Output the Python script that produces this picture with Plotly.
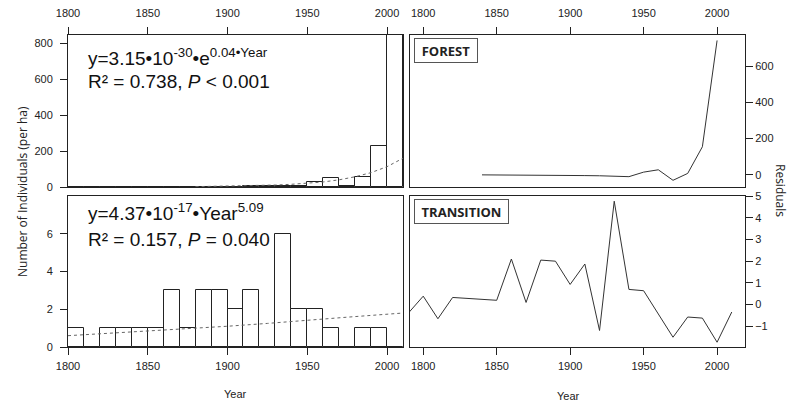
import plotly.graph_objects as go

# ---------------- data ----------------
bin_start = [1800, 1810, 1820, 1830, 1840, 1850, 1860, 1870, 1880, 1890, 1900,
             1910, 1920, 1930, 1940, 1950, 1960, 1970, 1980, 1990, 2000]
forest_counts = [0, 0, 0, 0, 0.5, 0.5, 0.5, 0.5, 0.5, 1, 2,
                 3, 5, 6, 8, 28, 52, 5, 55, 228, 860]
transition_counts = [1, 0, 1, 1, 1, 1, 3, 1, 3, 3, 2,
                     3, 0, 6, 2, 2, 1, 0, 1, 1, 0]

forest_fit_year = [1880, 1890, 1900, 1910, 1920, 1930, 1940, 1950, 1960, 1970,
                   1980, 1990, 2000, 2010]
forest_fit_val = [2, 3, 4, 6, 8, 11, 15, 20, 28, 40, 57, 80, 113, 160]

trans_fit_year = [1800, 1825, 1850, 1875, 1900, 1925, 1950, 1975, 2010]
trans_fit_val = [0.6, 0.72, 0.84, 0.97, 1.1, 1.25, 1.4, 1.58, 1.8]

forest_res_year = [1840, 1850, 1860, 1870, 1880, 1890, 1900, 1910, 1920, 1930,
                   1940, 1950, 1960, 1970, 1980, 1990, 2000]
forest_res = [0, 0, 0, 0, 0, -2, -3, -4, -5, -7, -10, 15, 28, -30, 8, 155, 742]

trans_res_year = [1790, 1800, 1810, 1820, 1850, 1860, 1870, 1880, 1890, 1900,
                  1910, 1920, 1930, 1940, 1950, 1970, 1980, 1990, 2000, 2010]
trans_res = [-0.38, 0.39, -0.65, 0.33, 0.2, 2.1, 0.1, 2.05, 2.0, 0.93,
             1.87, -1.19, 4.76, 0.7, 0.64, -1.5, -0.57, -0.62, -1.73, -0.34]

year_ticks = [1800, 1850, 1900, 1950, 2000]
forest_ticks = [0, 200, 400, 600, 800]
trans_ticks = [0, 2, 4, 6]
forest_res_ticks = [0, 200, 400, 600]
trans_res_ticks = [-1, 0, 1, 2, 3, 4, 5]

# ---------------- figure ----------------
W, H = 793, 408
ML, MR, MT, MB = 68, 48, 35, 61
pw, ph = W - ML - MR, H - MT - MB


def px_x(x):
    return (x - ML) / pw


def px_y(y):
    return (H - MB - y) / ph


fig = go.Figure()

bar_style = dict(marker=dict(color="white", line=dict(color="#222", width=1)),
                 width=10, offset=0, showlegend=False, hoverinfo="skip")
fig.add_trace(go.Bar(x=bin_start, y=forest_counts, xaxis="x", yaxis="y", **bar_style))
fig.add_trace(go.Scatter(x=forest_fit_year, y=forest_fit_val, xaxis="x", yaxis="y",
                         mode="lines", line=dict(color="#666", width=1, dash="dot"),
                         showlegend=False))
fig.add_trace(go.Bar(x=bin_start, y=transition_counts, xaxis="x2", yaxis="y2", **bar_style))
fig.add_trace(go.Scatter(x=trans_fit_year, y=trans_fit_val, xaxis="x2", yaxis="y2",
                         mode="lines", line=dict(color="#666", width=1, dash="dot"),
                         showlegend=False))
fig.add_trace(go.Scatter(x=forest_res_year, y=forest_res, xaxis="x3", yaxis="y3",
                         mode="lines", line=dict(color="#333", width=1),
                         showlegend=False))
fig.add_trace(go.Scatter(x=trans_res_year, y=trans_res, xaxis="x4", yaxis="y4",
                         mode="lines", line=dict(color="#333", width=1),
                         showlegend=False))

xl = [0, px_x(403)]
xr = [px_x(410), 1]
yt = [px_y(187), 1]
yb = [0, px_y(196)]

tickfont = dict(family="Liberation Sans, Arial", size=11, color="#222")
common = dict(showline=True, linecolor="#222", linewidth=1, mirror=True,
              ticks="outside", ticklen=7, tickcolor="#222", tickwidth=1,
              showgrid=False, zeroline=False, tickfont=tickfont, automargin=False)

fig.update_layout(
    width=W, height=H,
    margin=dict(l=ML, r=MR, t=MT, b=MB, autoexpand=False),
    plot_bgcolor="white", paper_bgcolor="white",
    bargap=0,
    xaxis=dict(domain=xl, anchor="y", range=[1800, 2010], side="top",
               tickvals=year_ticks, ticklabelstandoff=6, **common),
    yaxis=dict(domain=yt, anchor="x", range=[0, 845], tickvals=forest_ticks,
               ticklabelstandoff=5, **common),
    xaxis2=dict(domain=xl, anchor="y2", range=[1800, 2010], side="bottom",
                tickvals=year_ticks, ticklabelstandoff=2, **common),
    yaxis2=dict(domain=yb, anchor="x2", range=[0, 8], tickvals=trans_ticks,
                ticklabelstandoff=5, **common),
    xaxis3=dict(domain=xr, anchor="y3", range=[1791, 2019], side="top",
                tickvals=year_ticks, ticklabelstandoff=6, **common),
    yaxis3=dict(domain=yt, anchor="x3", range=[-67, 772], side="right",
                tickvals=forest_res_ticks, **common),
    xaxis4=dict(domain=xr, anchor="y4", range=[1791, 2019], side="bottom",
                tickvals=year_ticks, ticklabelstandoff=2, **common),
    yaxis4=dict(domain=yb, anchor="x4", range=[-1.95, 5], side="right",
                tickvals=trans_res_ticks, **common),
)

eqfont = dict(family="Liberation Sans, Arial", size=19, color="#111")
ann = [
    dict(text="y=3.15•10<sup>-30</sup>•e<sup>0.04•Year</sup>", x=px_x(86), y=px_y(57),
         xanchor="left", yanchor="middle", font=eqfont),
    dict(text="R² = 0.738, <i>P</i> < 0.001", x=px_x(86), y=px_y(81),
         xanchor="left", yanchor="middle", font=eqfont),
    dict(text="y=4.37•10<sup>-17</sup>•Year<sup>5.09</sup>", x=px_x(86), y=px_y(212),
         xanchor="left", yanchor="middle", font=eqfont),
    dict(text="R² = 0.157, <i>P</i> = 0.040", x=px_x(86), y=px_y(239),
         xanchor="left", yanchor="middle", font=eqfont),
    dict(text="<b>FOREST</b>", x=px_x(414), y=px_y(38), xanchor="left", yanchor="top",
         font=dict(family="Open Sans", size=13, color="#222"),
         bordercolor="#555", borderwidth=1, borderpad=3, width=56, height=17,
         bgcolor="white"),
    dict(text="<b>TRANSITION</b>", x=px_x(414), y=px_y(199), xanchor="left", yanchor="top",
         font=dict(family="Open Sans", size=13, color="#222"),
         bordercolor="#555", borderwidth=1, borderpad=3, width=87, height=17,
         bgcolor="white"),
    dict(text="Number of Individuals (per ha)", x=px_x(22), y=px_y(192), textangle=-90,
         xanchor="center", yanchor="middle",
         font=dict(family="Open Sans", size=12, color="#222")),
    dict(text="Residuals", x=px_x(781), y=px_y(190), textangle=90,
         xanchor="center", yanchor="middle",
         font=dict(family="Open Sans", size=12, color="#222")),
    dict(text="Year", x=px_x(235), y=px_y(394), xanchor="center", yanchor="middle",
         font=dict(family="Liberation Sans, Arial", size=11, color="#222")),
    dict(text="Year", x=px_x(568), y=px_y(396), xanchor="center", yanchor="middle",
         font=dict(family="Liberation Sans, Arial", size=11, color="#222")),
]
for a in ann:
    a.update(xref="paper", yref="paper", showarrow=False)
fig.update_layout(annotations=ann)

fig.write_html("out.html")
